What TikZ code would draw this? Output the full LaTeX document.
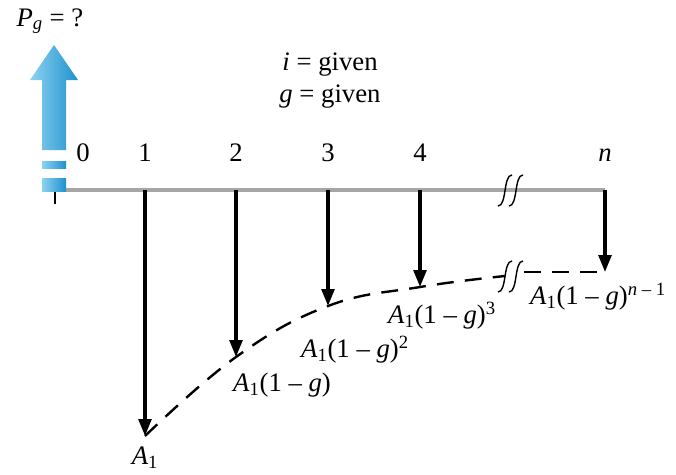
\documentclass[tikz,border=0pt]{standalone}
\usepackage{fontspec}
\setmainfont{Liberation Serif}
\usetikzlibrary{arrows.meta}
\definecolor{arrowblue}{RGB}{30,145,205}
\definecolor{lightblue}{RGB}{140,210,240}
\newcommand{\Aone}{\textit{A}\textsubscript{1}}
\begin{document}
\begin{tikzpicture}[x=0.025cm, y=-0.025cm, every node/.style={font=\fontsize{19}{21}\selectfont, inner sep=1pt}, flow/.style={line width=2.4pt, -{Triangle[length=12pt,width=9pt]}}, curve/.style={line width=1.7pt, dash pattern=on 12pt off 8pt}, brk/.style={line width=1pt}]
        \useasboundingbox (0,0) rectangle (676,474);
        % time axis
        \coordinate (t0) at (55,190);
        \coordinate (t1) at (145,190);
        \coordinate (t2) at (236,190);
        \coordinate (t3) at (328,190);
        \coordinate (t4) at (420,190);
        \coordinate (tn) at (605,190);
        \draw[gray!70, line width=2.2pt] (t0) -- (tn);
        \draw[line width=1pt] (t0) -- ++(0,14);
        \node (l0) at (83,153) {0};
        \node (l1) at (145,153) {1};
        \node (l2) at (236,153) {2};
        \node (l3) at (328,153) {3};
        \node (l4) at (420,153) {4};
        \node (ln) at (605,155) {\textit{n}};
        % break on the axis
        \foreach \d in {0,11} {
            \draw[brk] (498+\d,206) .. controls (507+\d,206) and (503+\d,175) .. (512+\d,175);
        }
        % present worth arrow
        \shade[left color=lightblue, right color=arrowblue] (42,150) -- (42,80) -- (30,80) -- (54,45) -- (78,80) -- (66,80) -- (66,150) -- cycle;
        \shade[left color=lightblue, right color=arrowblue] (42,161) rectangle (66,168);
        \shade[left color=lightblue, right color=arrowblue] (42,178) rectangle (66,191);
        \node (pg) at (50,21) {\textit{P}\textsubscript{\textit{g}} = ?};
        \node (ig) at (330,65) {\textit{i} = given};
        \node (gg) at (330,97) {\textit{g} = given};
        % cash flows
        \coordinate (b1) at (145,436);
        \coordinate (b2) at (236,357);
        \coordinate (b3) at (328,306);
        \coordinate (b4) at (420,287);
        \coordinate (bk) at (505,276);
        \coordinate (bn) at (605,272);
        \draw[flow] (t1) -- (b1);
        \draw[flow] (t2) -- (b2);
        \draw[flow] (t3) -- (b3);
        \draw[flow] (t4) -- (b4);
        \draw[flow] (tn) -- (bn);
        \draw[curve] plot[smooth, tension=0.7] coordinates {(b1) (b2) (b3) (b4) (bk)};
        \draw[curve] (524,272) -- (bn);
        \foreach \d in {0,11} {
            \draw[brk] (498+\d,292) .. controls (507+\d,292) and (503+\d,261) .. (512+\d,261);
        }
        \node (a1) at (145,458) {\Aone};
        \node (a2) at (282,385) {\Aone(1 – \textit{g})};
        \node (a3) at (355,350) {\Aone(1 – \textit{g})\textsuperscript{2}};
        \node (a4) at (442,316) {\Aone(1 – \textit{g})\textsuperscript{3}};
        \node (an) at (598,297) {\Aone(1 – \textit{g})\textsuperscript{\textit{n} – 1}};
    \end{tikzpicture}
\end{document}
